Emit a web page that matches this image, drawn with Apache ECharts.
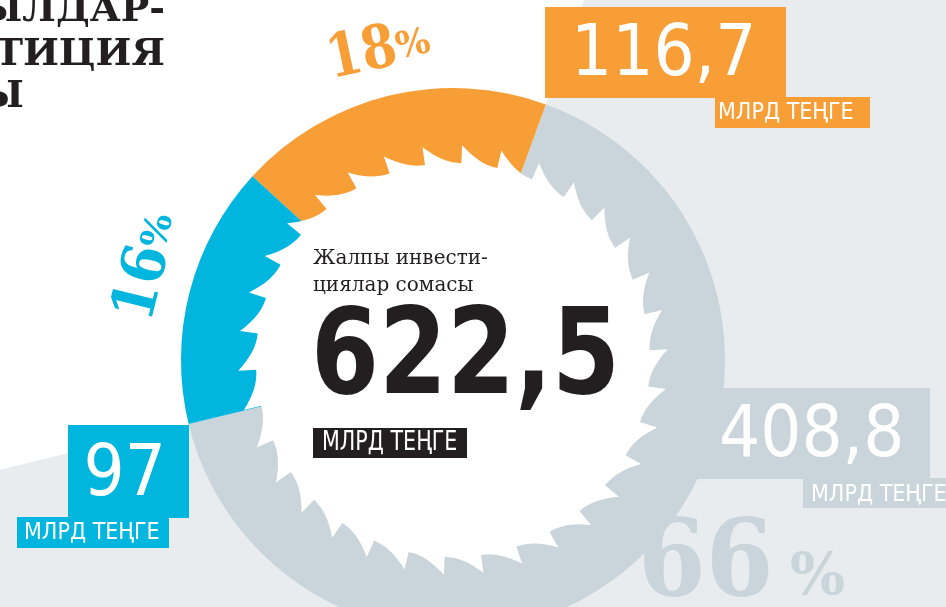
<!DOCTYPE html>
<html>
<head>
<meta charset="utf-8">
<script src="https://cdn.jsdelivr.net/npm/echarts@6/dist/echarts.min.js"></script>
<style>
html, body { margin: 0; padding: 0; background: #fff; }
#main { width: 946px; height: 607px; }
</style>
</head>
<body>
<div id="main"></div>
<script>
// data, in the order the ring is drawn (clockwise from the top-left)
var names = ['Оранж', 'Сұр', 'Көк'];
var values = [116.7, 408.8, 97];
var pctLabels = [18, 66, 16];
var totalValue = 622.5;
var unitLabel = 'МЛРД ТЕҢГЕ';
var centerTitle = ['Жалпы инвести-', 'циялар сомасы'];
var headLines = ['ЫЛДАР-', 'СТИЦИЯ', 'Ы'];

var colors = ['#f89e37', '#c9d5da', '#00b5de'];
var bgColors = ['#ffffff', '#e8ecef', '#ffffff'];

var cx = 453, cy = 360;
var condensed = "'DejaVu Sans Condensed', 'DejaVu Sans', sans-serif";
var serif = "'DejaVu Serif', serif";

function fmt(v) { return String(v).replace('.', ','); }

// white "saw blade" in the middle of the ring
function sawPoints(n, rIn, rOut) {
    var pts = [];
    for (var k = 0; k < n; k++) {
        for (var j = 0; j <= 8; j++) {
            var t = j / 8;
            var a = (k + t) * 2 * Math.PI / n + 0.05;
            var r = rIn + (rOut - rIn) * Math.pow(t, 2.2);
            pts.push([cx + r * Math.cos(a), cy - r * Math.sin(a)]);
        }
    }
    return pts;
}

var myChart = echarts.init(document.getElementById('main'));

function rect(x, y, w, h, fill) {
    return { type: 'rect', z: 10, silent: true, shape: { x: x, y: y, width: w, height: h }, style: { fill: fill } };
}
function text(x, y, str, font, fill, align, z, sx) {
    return {
        type: 'text', z: z || 20, silent: true, x: x, y: y, scaleX: sx || 1,
        style: { text: str, font: font, fill: fill, textAlign: align || 'left', textVerticalAlign: 'middle' }
    };
}

var pieData = names.map(function (n, i) {
    return { name: n, value: values[i], itemStyle: { color: colors[i] } };
});
var bgData = names.map(function (n, i) {
    return { name: n, value: values[i], itemStyle: { color: bgColors[i] } };
});

function pct(x, y, rot, i, digitFont, pctFont, px, py, sx, z) {
    return {
        type: 'group', x: x, y: y, rotation: rot * Math.PI / 180,
        children: [
            { type: 'text', z: z, x: 0, y: 0, scaleX: sx, silent: true,
              style: { text: String(pctLabels[i]), font: digitFont, fill: colors[i], textVerticalAlign: 'middle' } },
            { type: 'text', z: z, x: px, y: py, silent: true,
              style: { text: '%', font: pctFont, fill: colors[i], textVerticalAlign: 'middle' } }
        ]
    };
}

var elements = [
    // saw
    { type: 'polygon', z: 5, silent: true, shape: { points: sawPoints(34, 197, 215) }, style: { fill: '#ffffff' } },

    // headline (cut at the left edge)
    text(165, 11, headLines[0], 'bold 38px ' + serif, '#231f20', 'right'),
    text(165, 55, headLines[1], 'bold 38px ' + serif, '#231f20', 'right'),
    text(24, 97, headLines[2], 'bold 38px ' + serif, '#231f20', 'right'),

    // orange value
    rect(545, 7, 241, 91, colors[0]),
    rect(715, 97, 155, 31, colors[0]),
    text(571, 56, fmt(values[0]), '72px ' + condensed, '#ffffff'),
    text(718, 113, unitLabel, '23px ' + condensed, '#ffffff'),

    // blue value
    rect(68, 425, 121, 93, colors[2]),
    rect(17, 517, 152, 31, colors[2]),
    text(166, 476, fmt(values[2]), '72px ' + condensed, '#ffffff', 'right'),
    text(24, 533, unitLabel, '23px ' + condensed, '#ffffff'),

    // grey value
    rect(690, 388, 240, 91, colors[1]),
    rect(803, 478, 150, 30, colors[1]),
    text(719, 437, fmt(values[1]), '72px ' + condensed, '#ffffff'),
    text(811, 495, unitLabel, '23px ' + condensed, '#ffffff'),

    // centre
    text(313, 259, centerTitle[0], '20px ' + serif, '#231f20', 'left', 30),
    text(313, 286, centerTitle[1], '20px ' + serif, '#231f20', 'left', 30),
    text(311, 362, fmt(totalValue), 'bold 120px ' + condensed, '#231f20', 'left', 30, 0.905),
    rect(313, 428, 154, 30, '#231f20'),
    text(322, 443, unitLabel, '27px ' + condensed, '#ffffff', 'left', 30, 0.85),

    // percentages
    pct(328, 63, 12, 0, 'bold 60px ' + serif, 'bold 36px ' + serif, 70, 1, 0.84, 20),
    pct(135, 320, 76, 2, 'bold 60px ' + serif, 'bold 36px ' + serif, 75, 2, 0.9, 20),
    pct(638, 567, 0, 1, 'bold 106px ' + serif, 'bold 58px ' + serif, 152, 12, 0.92, 8)
];

var option = {
    animation: false,
    backgroundColor: '#ffffff',
    series: [
        {
            type: 'pie', z: 1, silent: true,
            center: [cx, cy], radius: [0, 1400],
            startAngle: 137.5, clockwise: true,
            label: { show: false }, labelLine: { show: false },
            itemStyle: { borderWidth: 0 },
            emphasis: { disabled: true },
            data: bgData
        },
        {
            type: 'pie', z: 2, silent: true,
            center: [cx, cy], radius: [188, 272],
            startAngle: 137.5, clockwise: true,
            label: { show: false }, labelLine: { show: false },
            itemStyle: { borderWidth: 0 },
            emphasis: { disabled: true },
            data: pieData
        }
    ],
    graphic: { elements: elements }
};

myChart.setOption(option);
</script>
</body>
</html>
